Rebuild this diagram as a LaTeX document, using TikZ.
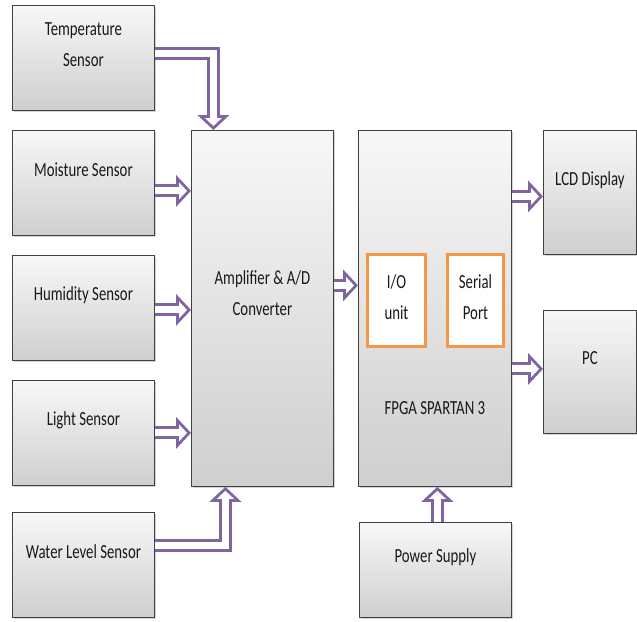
\documentclass[tikz,border=0pt]{standalone}
\usepackage{fontspec}
\setmainfont{Carlito}[FakeStretch=0.74]
\usetikzlibrary{arrows.meta,shadows}
\definecolor{pipepurple}{HTML}{8064A2}
\definecolor{unitorange}{HTML}{F79646}
\tikzset{
  blk/.style={draw=black!75, thick, top color=gray!6, bottom color=gray!38, anchor=north west, inner sep=0pt,
    drop shadow={opacity=.35, shadow xshift=2pt, shadow yshift=-2pt}},
  lbl/.style={align=center, font=\fontsize{20}{31}\selectfont, text=black!90},
  unit/.style={draw=unitorange, line width=3pt, fill=white, anchor=north west, inner sep=0pt},
  pipe/.style={draw=pipepurple, line width=13pt, -{Triangle[length=15pt, width=32pt, line width=0pt]},
    postaction={draw=white, line width=7pt, shorten >=4pt, -{Triangle[length=8pt, width=17pt, line width=0pt]}}},
}
\begin{document}
\begin{tikzpicture}[x=1pt,y=-1pt,line join=miter]
\useasboundingbox (0,0) rectangle (637,621);
% sensors
\foreach \n/\y/\t in {temp/5/{Temperature\\Sensor}, moist/130/Moisture Sensor, humid/255/Humidity Sensor, light/380/Light Sensor, water/512/Water Level Sensor}{
  \node[blk, minimum width=142pt, minimum height=105pt] (\n) at (12,\y) {};
  \node[lbl] (\n-t) at ([yshift=13pt]\n.center) {\t};
}
% processing blocks
\node[blk, minimum width=142pt, minimum height=356pt] (amp) at (191,130) {};
\node[lbl] (amp-t) at ([yshift=15pt]amp.center) {Amplifier \& A/D\\Converter};
\node[blk, minimum width=153pt, minimum height=356pt] (fpga) at (358,130) {};
\node[lbl] (fpga-t) at ([yshift=-100pt]fpga.center) {FPGA SPARTAN 3};
\node[unit, minimum width=58pt, minimum height=92pt] (io) at (366,253) {};
\node[lbl] (io-t) at ([yshift=3pt]io.center) {I/O\\unit};
\node[unit, minimum width=56pt, minimum height=92pt] (serial) at (446,253) {};
\node[lbl] (serial-t) at ([yshift=3pt]serial.center) {Serial\\Port};
% outputs
\node[blk, minimum width=93pt, minimum height=124pt] (lcd) at (543,130) {};
\node[lbl] (lcd-t) at ([yshift=12pt]lcd.center) {LCD Display};
\node[blk, minimum width=93pt, minimum height=123pt] (pc) at (543,310) {};
\node[lbl] (pc-t) at ([yshift=14pt]pc.center) {PC};
\node[blk, minimum width=152pt, minimum height=95pt] (power) at (359,522) {};
\node[lbl] (power-t) at ([yshift=13pt]power.center) {Power Supply};
% connections
\draw[pipe] ([yshift=4pt]temp.east) -| ([xshift=-49pt]amp.north);
\draw[pipe] ([yshift=-8pt]moist.east) -- ([yshift=-8pt]moist.east -| amp.west);
\draw[pipe] ([yshift=-2pt]humid.east) -- ([yshift=-2pt]humid.east -| amp.west);
\draw[pipe] (light.east) -- (light.east -| amp.west);
\draw[pipe] ([yshift=19pt]water.east) -| ([xshift=-37pt]amp.south);
\draw[pipe] ([yshift=23pt]amp.east) -- ([yshift=23pt]fpga.west);
\draw[pipe] ([yshift=-4pt]lcd.west -| fpga.east) -- ([yshift=-4pt]lcd.west);
\draw[pipe] ([yshift=3pt]pc.west -| fpga.east) -- ([yshift=3pt]pc.west);
\draw[pipe] ([xshift=2pt]power.north) -- ([xshift=2pt]power.north |- fpga.south);
\end{tikzpicture}
\end{document}
